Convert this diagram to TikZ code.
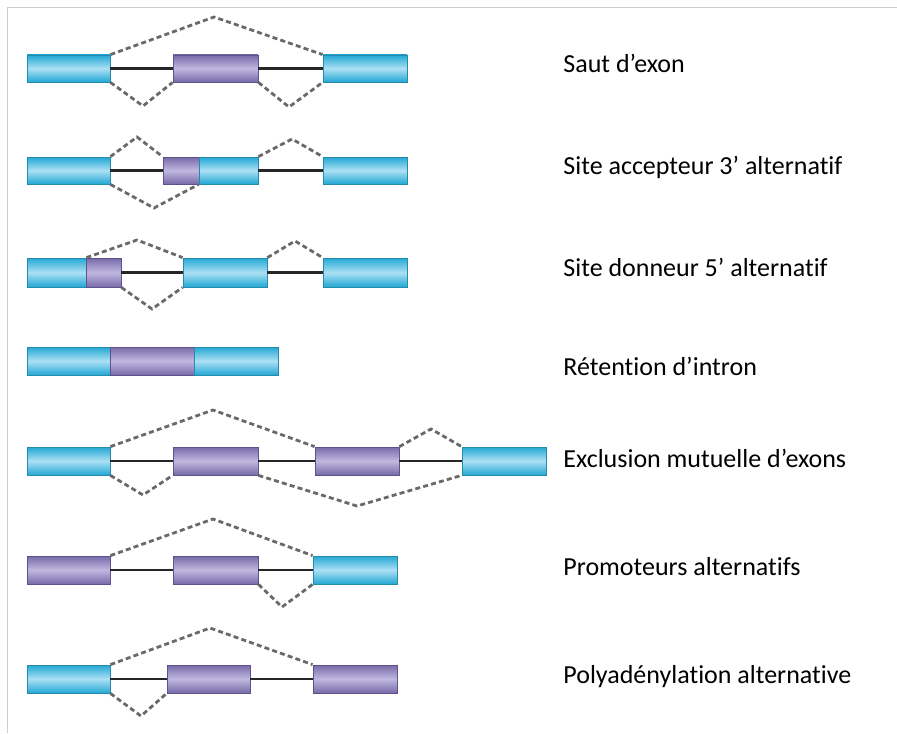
\documentclass[tikz,border=0pt]{standalone}
\usepackage{fontspec}
\setmainfont{Carlito}[Ligatures=NoCommon]
\usetikzlibrary{fit}

\definecolor{exonblue}{RGB}{34,168,212}
\definecolor{exonbluelight}{RGB}{172,224,244}
\definecolor{exonblueline}{RGB}{38,138,172}
\definecolor{exonpurple}{RGB}{120,106,168}
\definecolor{exonpurplelight}{RGB}{192,184,224}
\definecolor{exonpurpleline}{RGB}{92,82,140}
\definecolor{splicegray}{RGB}{105,105,105}
\definecolor{framegray}{RGB}{205,205,205}

\tikzset{
  exon/.style={draw=exonblueline, line width=0.4pt, inner sep=0pt,
    top color=exonblue, bottom color=exonblue, middle color=exonbluelight},
  altexon/.style={draw=exonpurpleline, line width=0.4pt, inner sep=0pt,
    top color=exonpurple, bottom color=exonpurple, middle color=exonpurplelight},
  intron/.style={black!85, line width=1.1pt},
  splice/.style={splicegray, line width=1.4pt, dash pattern=on 2.5pt off 1.6pt},
  eventname/.style={anchor=base west, inner sep=0pt, font=\fontsize{13}{15}\selectfont}
}

\begin{document}
\begin{tikzpicture}[x=0.5pt, y=-0.5pt]
\useasboundingbox (0,0) rectangle (897,733);
\draw[framegray, line width=0.6pt] (897,7.5) -- (7.5,7.5) -- (7.5,733);

% saut d'exon
\node[exon, fit={(27,55) (110,82)}] (a1) {};
\node[altexon, fit={(173,55) (258,82)}] (a2) {};
\node[exon, fit={(323,55) (407,82)}] (a3) {};
\draw[intron] (a1.east) -- (a2.west);
\draw[intron] (a2.east) -- (a3.west);
\draw[splice] (a1.north east) -- (214,17) -- (a3.north west);
\draw[splice] (a1.south east) -- (143,106) -- (a2.south west);
\draw[splice] (a2.south east) -- (289,107) -- (a3.south west);
\node[eventname] (ta) at (563,73) {Saut d’exon};

% site accepteur 3'
\node[exon, fit={(27,157) (110,184)}] (b1) {};
\node[altexon, fit={(163,157) (199,184)}] (b2) {};
\node[exon, fit={(199,157) (258,184)}] (b3) {};
\node[exon, fit={(323,157) (407,184)}] (b4) {};
\draw[intron] (b1.east) -- (b2.west);
\draw[intron] (b3.east) -- (b4.west);
\draw[splice] (b1.north east) -- (137,137) -- (b2.north west);
\draw[splice] (b1.south east) -- (154,208) -- (b3.south west);
\draw[splice] (b3.north east) -- (292,139) -- (b4.north west);
\node[eventname] (tb) at (563,174) {Site accepteur 3’ alternatif};

% site donneur 5'
\node[exon, fit={(27,258) (86,287)}] (c1) {};
\node[altexon, fit={(86,258) (121,287)}] (c2) {};
\node[exon, fit={(183,258) (267,287)}] (c3) {};
\node[exon, fit={(323,258) (407,287)}] (c4) {};
\draw[intron] (c2.east) -- (c3.west);
\draw[intron] (c3.east) -- (c4.west);
\draw[splice] (c1.north east) -- (137,240) -- (c3.north west);
\draw[splice] (c2.south east) -- (152,309) -- (c3.south west);
\draw[splice] (c3.north east) -- (295,241) -- (c4.north west);
\node[eventname] (tc) at (563,276) {Site donneur 5’ alternatif};

% retention d'intron
\node[exon, fit={(27,347) (110,375)}] (d1) {};
\node[altexon, fit={(110,347) (194,375)}] (d2) {};
\node[exon, fit={(194,347) (278,375)}] (d3) {};
\node[eventname] (td) at (563,375) {Rétention d’intron};

% exclusion mutuelle
\node[exon, fit={(27,447) (110,475)}] (e1) {};
\node[altexon, fit={(173,447) (258,475)}] (e2) {};
\node[altexon, fit={(315,447) (399,475)}] (e3) {};
\node[exon, fit={(462,447) (546,475)}] (e4) {};
\draw[intron] (e1.east) -- (e2.west);
\draw[intron] (e2.east) -- (e3.west);
\draw[intron] (e3.east) -- (e4.west);
\draw[splice] (e1.north east) -- (213,410) -- (e3.north west);
\draw[splice] (e3.north east) -- (431,429) -- (e4.north west);
\draw[splice] (e1.south east) -- (143,495) -- (e2.south west);
\draw[splice] (e2.south east) -- (357,506) -- (e4.south west);
\node[eventname] (te) at (563,467) {Exclusion mutuelle d’exons};

% promoteurs
\node[altexon, fit={(27,556) (110,584)}] (f1) {};
\node[altexon, fit={(173,556) (258,584)}] (f2) {};
\node[exon, fit={(313,556) (397,584)}] (f3) {};
\draw[intron] (f1.east) -- (f2.west);
\draw[intron] (f2.east) -- (f3.west);
\draw[splice] (f1.north east) -- (213,519) -- (f3.north west);
\draw[splice] (f2.south east) -- (282,607) -- (f3.south west);
\node[eventname] (tf) at (563,575) {Promoteurs alternatifs};

% polyadenylation
\node[exon, fit={(27,665) (110,693)}] (g1) {};
\node[altexon, fit={(167,665) (250,693)}] (g2) {};
\node[altexon, fit={(313,665) (397,693)}] (g3) {};
\draw[intron] (g1.east) -- (g2.west);
\draw[intron] (g2.east) -- (g3.west);
\draw[splice] (g1.north east) -- (210,628) -- (g3.north west);
\draw[splice] (g1.south east) -- (141,716) -- (g2.south west);
\node[eventname] (tg) at (563,683) {Polyadénylation alternative};
\end{tikzpicture}
\end{document}
